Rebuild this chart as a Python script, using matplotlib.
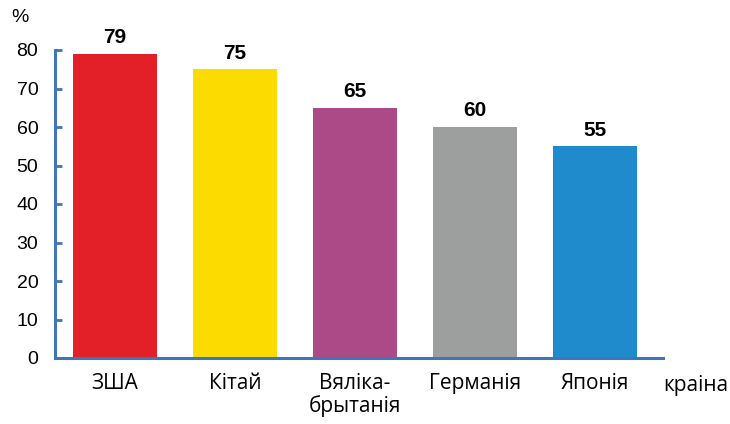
import matplotlib.pyplot as plt

countries = ['ЗША', 'Кітай', 'Вяліка-\nбрытанія', 'Германія', 'Японія']
values = [79, 75, 65, 60, 55]
colors = ['#e32028', '#fcdc00', '#ab4a86', '#9d9e9e', '#1f8bcd']
yticks = [0, 10, 20, 30, 40, 50, 60, 70, 80]

axis_col = '#3f76b8'

fig = plt.figure(figsize=(7.3, 4.24), dpi=100)
ax = fig.add_axes([55/730, 1 - 358/424, (663 - 55)/730, (358 - 50)/424])

x = range(len(values))
ax.bar(x, values, width=0.7, color=colors)
for i, v in zip(x, values):
    ax.text(i, v + 1.7, str(v), ha='center', va='bottom', fontsize=15,
            fontweight='bold', family='Liberation Sans')

ax.set_xlim(-0.5, 4.567)
ax.set_ylim(0, 80)
ax.set_yticks(yticks)
ax.set_yticklabels([str(t) for t in yticks], family='Liberation Sans', fontsize=14)
ax.tick_params(axis='y', direction='in', length=5, width=2, color=axis_col, pad=12)
ax.set_xticks(list(x))
ax.set_xticklabels(countries, family='Open Sans', fontsize=15, linespacing=1.05, va='top')
ax.tick_params(axis='x', length=0, pad=11)

for s in ['top', 'right']:
    ax.spines[s].set_visible(False)
for s in ['left', 'bottom']:
    ax.spines[s].set_color(axis_col)
    ax.spines[s].set_linewidth(2.2)

fig.text(20/730, 1 - 18/424, '%', ha='center', va='center', fontsize=14, family='Liberation Sans')
fig.text(696/730, 1 - 386/424, 'краіна', ha='center', va='center', fontsize=15, family='Open Sans')

fig.savefig('out.png', dpi=100)
